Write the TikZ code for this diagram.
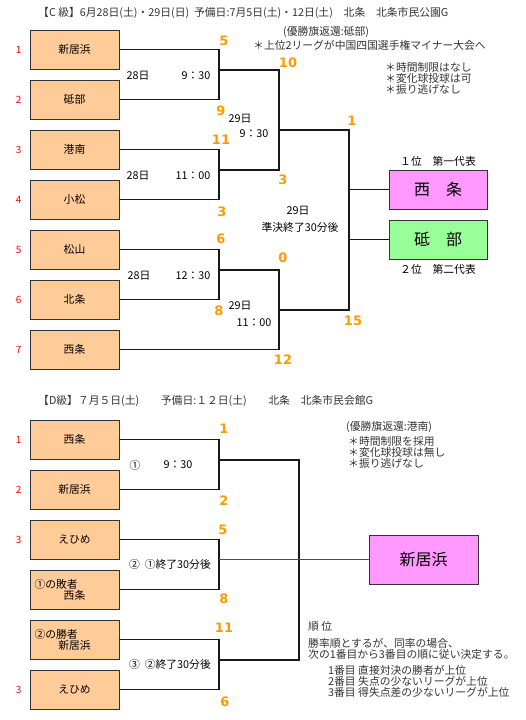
\documentclass[tikz,border=0pt]{standalone}
\usepackage{fontspec}
\setmainfont{Noto Sans CJK JP}
\newfontfamily\scorefont{DejaVu Sans}
\usetikzlibrary{
	positioning,calc
}
\definecolor{teamfill}{HTML}{FFCC99}
\definecolor{firstfill}{HTML}{FF99FF}
\definecolor{secondfill}{HTML}{99FF99}
\definecolor{scoreorange}{HTML}{FF9900}
\definecolor{inkgray}{HTML}{333333}
\tikzset{
	auto,
	team/.style={
		rectangle, minimum width=89pt, minimum height=39pt, inner sep=0pt,
		draw=inkgray, line width=0.8pt, fill=teamfill, align=center
	},
	%
	winner/.style={
		rectangle, minimum width=98pt, minimum height=39pt, inner sep=0pt,
		draw=inkgray, line width=0.8pt, font=\fontsize{16}{18}\selectfont
	},
	%
	seed/.style={
		text=red, inner sep=0pt, font=\fontsize{10}{11}\selectfont
	},
	%
	score/.style={
		text=scoreorange, inner sep=0pt, font=\fontsize{13}{14}\scorefont\bfseries
	},
	%
	notes/.style={
		anchor=west, align=left, inner sep=0pt, text=inkgray
	},
	%
	bracket/.style={
		line width=1.7pt, draw=black!90
	}
}

\begin{document}
\begin{tikzpicture}[x=1pt, y=-1pt, font=\fontsize{10.8}{11}\selectfont]
    \useasboundingbox (0,0) rectangle (525,720);
    % C class
    \node(hdrC)[notes] at (38,13){【C 級】6月28日(土)・29日(日)\ \ 予備日:7月5日(土)・12日(土)　北条　北条市民公園G};
    \node(flagC)[notes] at (283,32){(優勝旗返還:砥部)};
    \node(minorC)[notes] at (253,45){＊上位2リーグが中国四国選手権マイナー大会へ};
    \node(rulesC)[notes] at (385,78){＊時間制限はなし\\＊変化球投球は可\\＊振り逃げなし};
    \node(c1)[team] at (74.5,49.5){新居浜};
    \node(c2)[team] at (74.5,99.5){砥部};
    \node(c3)[team] at (74.5,149.5){港南};
    \node(c4)[team] at (74.5,199.5){小松};
    \node(c5)[team] at (74.5,249.5){松山};
    \node(c6)[team] at (74.5,299.5){北条};
    \node(c7)[team] at (74.5,349.5){西条};
    \foreach \i in {1,...,7}
        \node(sc\i)[seed, left=8pt of c\i]{\i};
    \coordinate(cm1) at (219,70);
    \coordinate(cm2) at (219,170);
    \coordinate(cm3) at (219,270);
    \coordinate(cs1) at (279,130);
    \coordinate(cs2) at (279,310);
    \coordinate(cf) at (349,189.5);
    \node(cwin1)[winner, fill=firstfill] at (438,189.5){西　条};
    \node(cwin2)[winner, fill=secondfill] at (438,239.5){砥　部};
    \node(rank1)[above=0pt of cwin1]{１位　第一代表};
    \node(rank2)[below=1pt of cwin2]{２位　第二代表};
    \draw[bracket] (c1.east) -| (cm1) |- (c2.east);
    \draw[bracket] (c3.east) -| (cm2) |- (c4.east);
    \draw[bracket] (c5.east) -| (cm3) |- (c6.east);
    \draw[bracket] (cm1) -| (cs1) |- (cm2);
    \draw[bracket] (cm3) -| (cs2) |- (c7.east);
    \draw[bracket] (cs1) -| (cf) |- (cs2);
    \draw[bracket] (cf) -- (cwin1.west);
    \draw[bracket] (cwin2.west -| cf) -- (cwin2.west);
    \node(pc1)[score] at (224,41){5};
    \node(pc2)[score] at (221,111){9};
    \node(pc3)[score] at (221,140){11};
    \node(pc4)[score] at (222,212){3};
    \node(pc5)[score] at (221,239){6};
    \node(pc6)[score] at (219,311){8};
    \node(pc7)[score] at (288,63){10};
    \node(pc8)[score] at (283,180){3};
    \node(pc9)[score] at (283,258){0};
    \node(pc10)[score] at (283,360){12};
    \node(pc11)[score] at (352,121){1};
    \node(pc12)[score] at (353,321){15};
    \node(dayc1) at (138,76){28日};
    \node(timec1) at (196,76){9：30};
    \node(dayc2) at (138,176){28日};
    \node(timec2) at (193,176){11：00};
    \node(dayc3) at (139,276){28日};
    \node(timec3) at (193,276){12：30};
    \node(dayc4) at (240,119){29日};
    \node(timec4) at (254,134){9：30};
    \node(dayc5) at (240,306){29日};
    \node(timec5) at (254,323){11：00};
    \node(dayc6) at (298,211){29日};
    \node(timec6) at (300,227){準決終了30分後};
    % D class
    \node(hdrD)[notes] at (38,401){【D級】７月５日(土)　　予備日:１２日(土)　　北条　北条市民会館G};
    \node(flagD)[notes] at (346,427){(優勝旗返還:港南)};
    \node(rulesD)[notes] at (348,452){＊時間制限を採用\\＊変化球投球は無し\\＊振り逃げなし};
    \node(d1)[team] at (74.5,439.5){西条};
    \node(d2)[team] at (74.5,489.5){新居浜};
    \node(d3)[team] at (74.5,539.5){えひめ};
    \node(d4)[team] at (74.5,589.5){\makebox[80pt][l]{①の敗者}\\西条};
    \node(d5)[team] at (74.5,639.5){\makebox[80pt][l]{②の勝者}\\新居浜};
    \node(d6)[team] at (74.5,689.5){えひめ};
    \node(sd1)[seed, left=8pt of d1]{1};
    \node(sd2)[seed, left=8pt of d2]{2};
    \node(sd3)[seed, left=8pt of d3]{3};
    \node(sd6)[seed, left=8pt of d6]{3};
    \coordinate(dm1) at (219,460);
    \coordinate(dm2) at (219,559.5);
    \coordinate(dm3) at (219,660);
    \coordinate(dj) at (299,559.5);
    \node(dwin)[winner, fill=firstfill, minimum width=109pt, minimum height=49pt] at (423.5,559.5){新居浜};
    \draw[bracket] (d1.east) -| (dm1) |- (d2.east);
    \draw[bracket] (d3.east) -| (dm2) |- (d4.east);
    \draw[bracket] (d5.east) -| (dm3) |- (d6.east);
    \draw[bracket] (dm1) -| (dj) |- (dm3);
    \draw[bracket, line width=1.3pt, draw=black!70] (dm2) -- (dwin.west);
    \node(pd1)[score] at (224,429){1};
    \node(pd2)[score] at (224,501){2};
    \node(pd3)[score] at (223,530){5};
    \node(pd4)[score] at (224,599){8};
    \node(pd5)[score] at (224,628){11};
    \node(pd6)[score] at (225,702){6};
    \node(gamed1) at (135,465){①};
    \node(timed1) at (178,465){9：30};
    \node(timed2) at (170,564){②\ \ ①終了30分後};
    \node(timed3) at (170,664){③\ \ ②終了30分後};
    \node(rankD)[notes] at (308,626){順 位};
    \node(tieD)[notes] at (308,648.5){勝率順とするが、同率の場合、\\次の1番目から3番目の順に従い決定する。};
    \node(orderD)[notes] at (328,681){1番目 直接対決の勝者が上位\\2番目 失点の少ないリーグが上位\\3番目 得失点差の少ないリーグが上位};
\end{tikzpicture}
\end{document}
